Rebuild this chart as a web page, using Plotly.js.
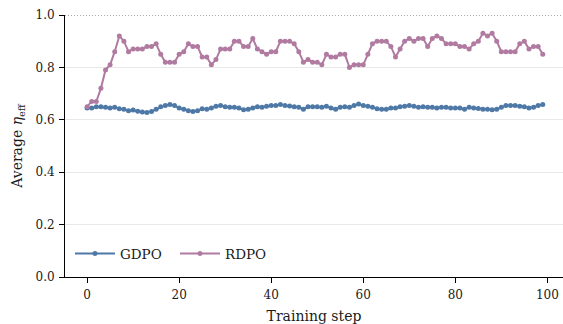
<!DOCTYPE html>
<html>
<head>
<meta charset="utf-8">
<script src="https://cdn.plot.ly/plotly-3.0.1.min.js"></script>
<style>html,body{margin:0;padding:0;background:#fff;}#chart{width:563px;height:324px;}</style>
</head>
<body>
<div id="chart"></div>
<script>
const steps = Array.from({length: 100}, (_, i) => i);
const gdpo = [0.645,0.645,0.650,0.650,0.648,0.645,0.648,0.642,0.640,0.635,
  0.637,0.633,0.630,0.628,0.632,0.640,0.650,0.655,0.658,0.655,
  0.645,0.640,0.635,0.632,0.635,0.642,0.640,0.645,0.652,0.655,
  0.650,0.648,0.648,0.645,0.638,0.640,0.645,0.650,0.648,0.652,
  0.655,0.655,0.658,0.655,0.653,0.650,0.648,0.640,0.650,0.650,
  0.650,0.648,0.652,0.645,0.640,0.648,0.650,0.648,0.655,0.660,
  0.655,0.652,0.648,0.642,0.640,0.640,0.645,0.645,0.650,0.652,
  0.655,0.652,0.648,0.650,0.648,0.648,0.645,0.648,0.648,0.645,
  0.645,0.645,0.640,0.648,0.645,0.643,0.640,0.640,0.638,0.640,
  0.648,0.655,0.655,0.655,0.652,0.650,0.645,0.648,0.655,0.658];
const rdpo = [0.65,0.67,0.67,0.72,0.79,0.81,0.86,0.92,0.90,0.86,
  0.87,0.87,0.87,0.88,0.88,0.89,0.85,0.82,0.82,0.82,
  0.85,0.86,0.89,0.88,0.88,0.84,0.84,0.81,0.83,0.87,
  0.87,0.87,0.90,0.90,0.88,0.88,0.91,0.87,0.86,0.85,
  0.86,0.86,0.90,0.90,0.90,0.89,0.86,0.82,0.83,0.82,
  0.82,0.81,0.85,0.84,0.84,0.85,0.85,0.80,0.81,0.81,
  0.81,0.85,0.89,0.90,0.90,0.90,0.88,0.84,0.87,0.90,
  0.91,0.90,0.91,0.91,0.88,0.91,0.92,0.91,0.89,0.89,
  0.89,0.88,0.88,0.87,0.89,0.90,0.93,0.92,0.93,0.90,
  0.86,0.86,0.86,0.86,0.89,0.90,0.87,0.88,0.88,0.85];
const seriesNames = ['GDPO', 'RDPO'];
const seriesColors = ['#4e79a7', '#b07aa1'];
const yTicks = [0.0, 0.2, 0.4, 0.6, 0.8, 1.0];
const yTickText = ['0.0', '0.2', '0.4', '0.6', '0.8', '1.0'];
const xTicks = [0, 20, 40, 60, 80, 100];

const serif = 'DejaVu Serif, serif';
const traces = [gdpo, rdpo].map((vals, k) => ({
  x: steps, y: vals, name: seriesNames[k], type: 'scatter', mode: 'lines+markers',
  line: {color: seriesColors[k], width: 2},
  marker: {color: seriesColors[k], size: 5}
}));

const layout = {
  width: 563, height: 324,
  margin: {l: 65, r: 0, t: 15, b: 47},
  paper_bgcolor: '#fff', plot_bgcolor: '#fff',
  font: {family: serif, color: '#1a1a1a', size: 12},
  showlegend: true,
  legend: {orientation: 'h', x: 0.01, y: 0.03, xanchor: 'left', yanchor: 'bottom',
    bgcolor: 'rgba(255,255,255,0)', font: {family: serif, size: 13.5, color: '#1a1a1a'},
    entrywidth: 50, itemwidth: 40, tracegroupgap: 0},
  xaxis: {
    range: [-4.8, 103.4], tickvals: xTicks, ticks: 'outside', ticklen: 5, tickcolor: '#000',
    ticklabelstandoff: 2,
    showgrid: false, zeroline: false, showline: true, linecolor: '#000', linewidth: 1,
    title: {text: 'Training step', font: {family: serif, size: 14, color: '#1a1a1a'}, standoff: 9},
    tickfont: {family: serif, size: 12, color: '#1a1a1a'}
  },
  yaxis: {
    range: [0, 1.0], tickvals: yTicks, ticktext: yTickText, ticks: 'outside', ticklen: 5, tickcolor: '#000',
    ticklabelstandoff: 2,
    showgrid: true, gridcolor: '#e8e8e8', gridwidth: 1, zeroline: false,
    showline: true, linecolor: '#000', linewidth: 1,
    title: {text: 'Average <i>η</i><sub>eff</sub>', font: {family: serif, size: 14, color: '#1a1a1a'}, standoff: 9},
    tickfont: {family: serif, size: 12, color: '#1a1a1a'}
  },
  shapes: [{type: 'line', xref: 'paper', x0: 0, x1: 1, yref: 'y', y0: 1.0, y1: 1.0,
    line: {color: '#555', width: 1, dash: '1px,2px'}}]
};
Plotly.newPlot('chart', traces, layout, {displayModeBar: false, staticPlot: true});
</script>
</body>
</html>
